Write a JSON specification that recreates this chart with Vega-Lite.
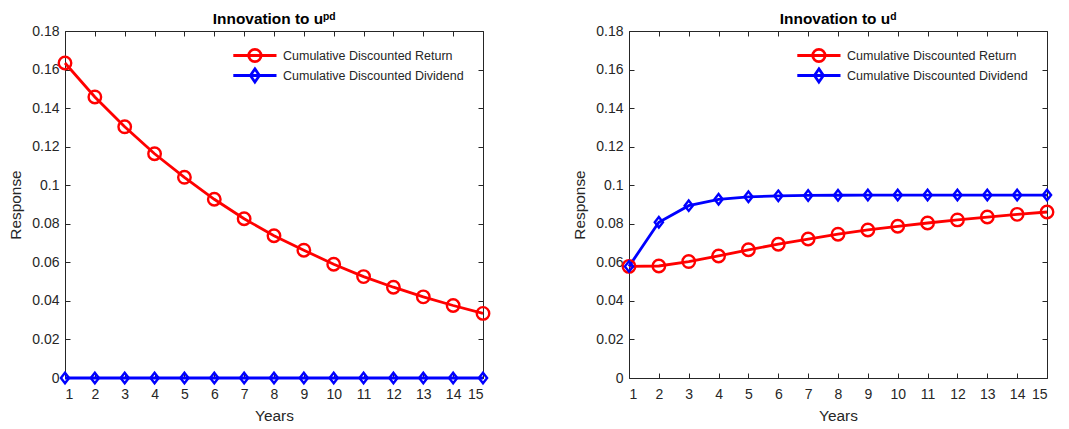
{
  "$schema": "https://vega.github.io/schema/vega-lite/v6.json",
  "background": "white",
  "padding": {"left": 8, "top": 11, "right": 10, "bottom": 4},
  "config": {
    "view": {"stroke": null},
    "font": "Liberation Sans",
    "axis": {"domainColor": "#262626", "tickColor": "#262626", "labelColor": "#262626", "titleColor": "#262626", "grid": false, "labelFont": "Liberation Sans", "titleFont": "Liberation Sans", "labelFontSize": 14, "titleFontSize": 15.4, "titleFontWeight": "normal", "tickSize": -5, "domainWidth": 1, "tickWidth": 1},
    "axisX": {"labelPadding": 14, "titlePadding": 7},
    "axisY": {"labelPadding": 11, "titlePadding": 8},
    "title": {"fontSize": 15.4, "fontWeight": "bold", "color": "#000000", "font": "Liberation Sans", "offset": -3},
    "legend": {"title": null, "orient": "none", "legendX": 198, "legendY": 17, "padding": 0, "labelFontSize": 12.5, "labelColor": "#262626", "labelFont": "Liberation Sans", "labelLimit": 400, "symbolSize": 144, "symbolStrokeWidth": 2.8, "rowPadding": -10.5, "labelOffset": 5}
  },
  "datasets": {
    "pd": [
      {"year": 1, "series": "Cumulative Discounted Return", "value": 0.1634},
      {"year": 2, "series": "Cumulative Discounted Return", "value": 0.1458},
      {"year": 3, "series": "Cumulative Discounted Return", "value": 0.1303},
      {"year": 4, "series": "Cumulative Discounted Return", "value": 0.1163},
      {"year": 5, "series": "Cumulative Discounted Return", "value": 0.1041},
      {"year": 6, "series": "Cumulative Discounted Return", "value": 0.0927},
      {"year": 7, "series": "Cumulative Discounted Return", "value": 0.0826},
      {"year": 8, "series": "Cumulative Discounted Return", "value": 0.0738},
      {"year": 9, "series": "Cumulative Discounted Return", "value": 0.0663},
      {"year": 10, "series": "Cumulative Discounted Return", "value": 0.059},
      {"year": 11, "series": "Cumulative Discounted Return", "value": 0.0526},
      {"year": 12, "series": "Cumulative Discounted Return", "value": 0.0471},
      {"year": 13, "series": "Cumulative Discounted Return", "value": 0.0421},
      {"year": 14, "series": "Cumulative Discounted Return", "value": 0.0376},
      {"year": 15, "series": "Cumulative Discounted Return", "value": 0.0335},
      {"year": 1, "series": "Cumulative Discounted Dividend", "value": 0},
      {"year": 2, "series": "Cumulative Discounted Dividend", "value": 0},
      {"year": 3, "series": "Cumulative Discounted Dividend", "value": 0},
      {"year": 4, "series": "Cumulative Discounted Dividend", "value": 0},
      {"year": 5, "series": "Cumulative Discounted Dividend", "value": 0},
      {"year": 6, "series": "Cumulative Discounted Dividend", "value": 0},
      {"year": 7, "series": "Cumulative Discounted Dividend", "value": 0},
      {"year": 8, "series": "Cumulative Discounted Dividend", "value": 0},
      {"year": 9, "series": "Cumulative Discounted Dividend", "value": 0},
      {"year": 10, "series": "Cumulative Discounted Dividend", "value": 0},
      {"year": 11, "series": "Cumulative Discounted Dividend", "value": 0},
      {"year": 12, "series": "Cumulative Discounted Dividend", "value": 0},
      {"year": 13, "series": "Cumulative Discounted Dividend", "value": 0},
      {"year": 14, "series": "Cumulative Discounted Dividend", "value": 0},
      {"year": 15, "series": "Cumulative Discounted Dividend", "value": 0}
    ],
    "d": [
      {"year": 1, "series": "Cumulative Discounted Return", "value": 0.0579},
      {"year": 2, "series": "Cumulative Discounted Return", "value": 0.0581},
      {"year": 3, "series": "Cumulative Discounted Return", "value": 0.0604},
      {"year": 4, "series": "Cumulative Discounted Return", "value": 0.0633},
      {"year": 5, "series": "Cumulative Discounted Return", "value": 0.0665},
      {"year": 6, "series": "Cumulative Discounted Return", "value": 0.0694},
      {"year": 7, "series": "Cumulative Discounted Return", "value": 0.0721},
      {"year": 8, "series": "Cumulative Discounted Return", "value": 0.0746},
      {"year": 9, "series": "Cumulative Discounted Return", "value": 0.0768},
      {"year": 10, "series": "Cumulative Discounted Return", "value": 0.0787},
      {"year": 11, "series": "Cumulative Discounted Return", "value": 0.0804},
      {"year": 12, "series": "Cumulative Discounted Return", "value": 0.082},
      {"year": 13, "series": "Cumulative Discounted Return", "value": 0.0835},
      {"year": 14, "series": "Cumulative Discounted Return", "value": 0.0849},
      {"year": 15, "series": "Cumulative Discounted Return", "value": 0.0861},
      {"year": 1, "series": "Cumulative Discounted Dividend", "value": 0.0579},
      {"year": 2, "series": "Cumulative Discounted Dividend", "value": 0.0808},
      {"year": 3, "series": "Cumulative Discounted Dividend", "value": 0.0894},
      {"year": 4, "series": "Cumulative Discounted Dividend", "value": 0.0927},
      {"year": 5, "series": "Cumulative Discounted Dividend", "value": 0.094},
      {"year": 6, "series": "Cumulative Discounted Dividend", "value": 0.0945},
      {"year": 7, "series": "Cumulative Discounted Dividend", "value": 0.0947},
      {"year": 8, "series": "Cumulative Discounted Dividend", "value": 0.0948},
      {"year": 9, "series": "Cumulative Discounted Dividend", "value": 0.0949},
      {"year": 10, "series": "Cumulative Discounted Dividend", "value": 0.0949},
      {"year": 11, "series": "Cumulative Discounted Dividend", "value": 0.0949},
      {"year": 12, "series": "Cumulative Discounted Dividend", "value": 0.0949},
      {"year": 13, "series": "Cumulative Discounted Dividend", "value": 0.0949},
      {"year": 14, "series": "Cumulative Discounted Dividend", "value": 0.0949},
      {"year": 15, "series": "Cumulative Discounted Dividend", "value": 0.0949}
    ]
  },
  "spacing": 77,
  "resolve": {"scale": {"color": "independent"}, "legend": {"color": "independent"}},
  "hconcat": [
    {
      "width": 418, "height": 347,
      "title": {"text": "Innovation to uᵖᵈ"},
      "data": {"name": "pd"},
      "layer": [
        {
          "mark": {"type": "line", "strokeWidth": 2.8, "clip": false},
          "encoding": {
            "x": {"field": "year", "type": "quantitative", "scale": {"domain": [1, 15], "nice": false, "zero": false}, "axis": {"values": [1,2,3,4,5,6,7,8,9,10,11,12,13,14,15], "format": "d", "title": "Years"}},
            "y": {"field": "value", "type": "quantitative", "scale": {"domain": [0, 0.18], "nice": false}, "axis": {"values": [0,0.02,0.04,0.06,0.08,0.1,0.12,0.14,0.16,0.18], "format": ".2~f", "title": "Response"}},
            "color": {"field": "series", "type": "nominal", "scale": {"domain": ["Cumulative Discounted Return", "Cumulative Discounted Dividend"], "range": ["#FF0000", "#0000FF"]},
              "legend": {"encode": {"symbols": {"update": {"shape": {"signal": "datum.value === 'Cumulative Discounted Return' ? 'M-6.2,0L1,0M-3.63,0A1.03,1.03,0,1,1,-1.57,0A1.03,1.03,0,1,1,-3.63,0' : 'M-6.2,0L1,0M-2.6,-1.1L-1.85,0L-2.6,1.1L-3.35,0Z'"}, "fill": {"value": "transparent"}}}}}}
          }
        },
        {
          "transform": [{"filter": "datum.series === 'Cumulative Discounted Return'"}],
          "mark": {"type": "point", "shape": "circle", "filled": false, "color": "#FF0000", "strokeWidth": 2.4, "size": 156, "opacity": 1, "clip": false},
          "encoding": {
            "x": {"field": "year", "type": "quantitative", "scale": {"domain": [1, 15], "nice": false, "zero": false}, "axis": {"orient": "top", "labels": false, "title": null, "values": [1,2,3,4,5,6,7,8,9,10,11,12,13,14,15]}},
            "y": {"field": "value", "type": "quantitative", "scale": {"domain": [0, 0.18], "nice": false}, "axis": {"orient": "right", "labels": false, "title": null, "values": [0,0.02,0.04,0.06,0.08,0.1,0.12,0.14,0.16,0.18]}}
          }
        },
        {
          "transform": [{"filter": "datum.series === 'Cumulative Discounted Dividend'"}],
          "mark": {"type": "point", "shape": "M0,-1L0.78,0L0,1L-0.78,0Z", "filled": false, "color": "#0000FF", "strokeWidth": 2.4, "size": 110, "opacity": 1, "clip": false},
          "encoding": {
            "x": {"field": "year", "type": "quantitative", "scale": {"domain": [1, 15], "nice": false, "zero": false}, "axis": null},
            "y": {"field": "value", "type": "quantitative", "scale": {"domain": [0, 0.18], "nice": false}, "axis": null}
          }
        }
      ],
      "resolve": {"axis": {"x": "independent", "y": "independent"}}
    },
    {
      "width": 418, "height": 347,
      "title": {"text": "Innovation to uᵈ"},
      "data": {"name": "d"},
      "layer": [
        {
          "mark": {"type": "line", "strokeWidth": 2.8, "clip": false},
          "encoding": {
            "x": {"field": "year", "type": "quantitative", "scale": {"domain": [1, 15], "nice": false, "zero": false}, "axis": {"values": [1,2,3,4,5,6,7,8,9,10,11,12,13,14,15], "format": "d", "title": "Years"}},
            "y": {"field": "value", "type": "quantitative", "scale": {"domain": [0, 0.18], "nice": false}, "axis": {"values": [0,0.02,0.04,0.06,0.08,0.1,0.12,0.14,0.16,0.18], "format": ".2~f", "title": "Response"}},
            "color": {"field": "series", "type": "nominal", "scale": {"domain": ["Cumulative Discounted Return", "Cumulative Discounted Dividend"], "range": ["#FF0000", "#0000FF"]},
              "legend": {"encode": {"symbols": {"update": {"shape": {"signal": "datum.value === 'Cumulative Discounted Return' ? 'M-6.2,0L1,0M-3.63,0A1.03,1.03,0,1,1,-1.57,0A1.03,1.03,0,1,1,-3.63,0' : 'M-6.2,0L1,0M-2.6,-1.1L-1.85,0L-2.6,1.1L-3.35,0Z'"}, "fill": {"value": "transparent"}}}}}}
          }
        },
        {
          "transform": [{"filter": "datum.series === 'Cumulative Discounted Return'"}],
          "mark": {"type": "point", "shape": "circle", "filled": false, "color": "#FF0000", "strokeWidth": 2.4, "size": 156, "opacity": 1, "clip": false},
          "encoding": {
            "x": {"field": "year", "type": "quantitative", "scale": {"domain": [1, 15], "nice": false, "zero": false}, "axis": {"orient": "top", "labels": false, "title": null, "values": [1,2,3,4,5,6,7,8,9,10,11,12,13,14,15]}},
            "y": {"field": "value", "type": "quantitative", "scale": {"domain": [0, 0.18], "nice": false}, "axis": {"orient": "right", "labels": false, "title": null, "values": [0,0.02,0.04,0.06,0.08,0.1,0.12,0.14,0.16,0.18]}}
          }
        },
        {
          "transform": [{"filter": "datum.series === 'Cumulative Discounted Dividend'"}],
          "mark": {"type": "point", "shape": "M0,-1L0.78,0L0,1L-0.78,0Z", "filled": false, "color": "#0000FF", "strokeWidth": 2.4, "size": 110, "opacity": 1, "clip": false},
          "encoding": {
            "x": {"field": "year", "type": "quantitative", "scale": {"domain": [1, 15], "nice": false, "zero": false}, "axis": null},
            "y": {"field": "value", "type": "quantitative", "scale": {"domain": [0, 0.18], "nice": false}, "axis": null}
          }
        }
      ],
      "resolve": {"axis": {"x": "independent", "y": "independent"}}
    }
  ]
}
